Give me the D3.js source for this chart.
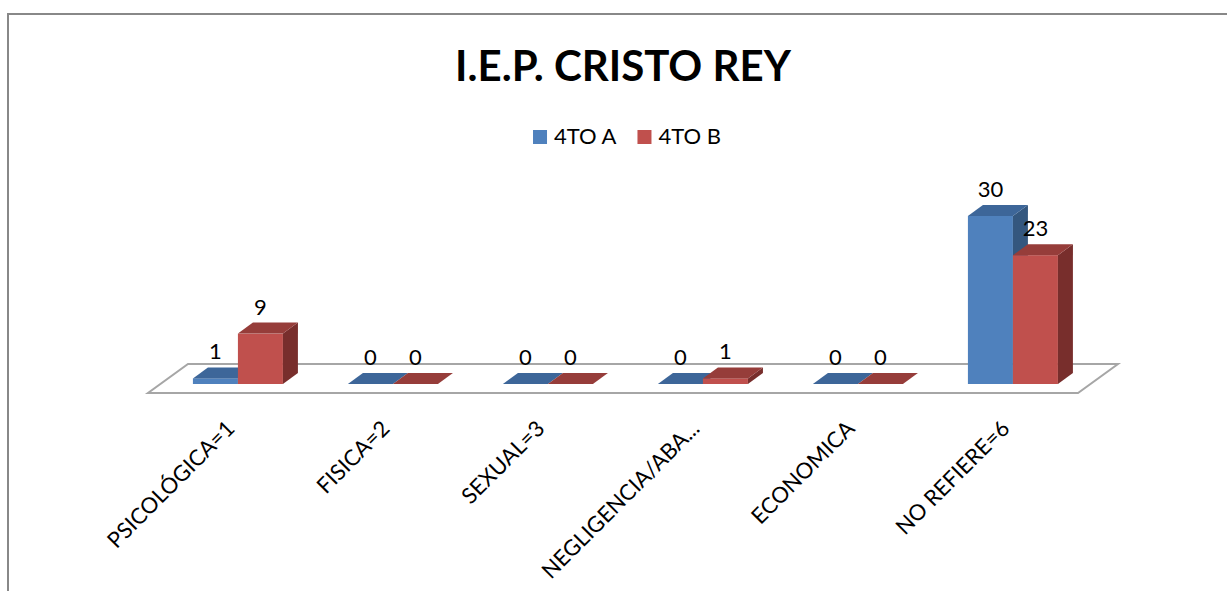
<!DOCTYPE html>
<html>
<head>
<meta charset="utf-8">
<script src="https://cdn.jsdelivr.net/npm/d3@7"></script>
<style>
  body { margin: 0; background: #fff; }
  svg { display: block; font-family: Lato, "Open Sans", sans-serif; }
</style>
</head>
<body>
<div id="chart"></div>
<script>
// Chart data
const categories = ["PSICOLÓGICA=1", "FISICA=2", "SEXUAL=3", "NEGLIGENCIA/ABA...", "ECONOMICA", "NO REFIERE=6"];
const seriesNames = ["4TO A", "4TO B"];
const valuesA = [1, 0, 0, 0, 0, 30];
const valuesB = [9, 0, 0, 1, 0, 23];
const chartTitle = "I.E.P. CRISTO REY";

// Face colours per series: front, top, side
const palette = [
  { front: "#4F81BD", top: "#3D6699", side: "#34577F" },
  { front: "#C0504D", top: "#963D3A", side: "#782E2C" },
];

const W = 1227, H = 591;

/**
 * Render a 3D-looking clustered column chart
 */
function renderChart(container) {
  const svg = d3.select(container).append("svg").attr("width", W).attr("height", H);

  // outer chart frame (runs off the right and bottom edge)
  svg.append("rect")
    .attr("x", 8).attr("y", 14)
    .attr("width", W + 20).attr("height", H + 20)
    .attr("fill", "none").attr("stroke", "#888").attr("stroke-width", 2);

  // Title
  svg.append("text")
    .attr("x", 623).attr("y", 81)
    .attr("text-anchor", "middle")
    .attr("font-size", 42).attr("font-weight", "bold")
    .attr("fill", "#000")
    .text(chartTitle);

  drawLegend(svg);

  // Floor geometry
  const floor = { left: 148, right: 1078, frontY: 393, dx: 40, dy: -29 };
  const bar = { inset: 9, dx: 15, dy: -11, width: 45 };
  const insetX = bar.inset * floor.dx / -floor.dy;
  const baseY = floor.frontY - bar.inset;

  const x = d3.scaleBand()
    .domain(categories)
    .range([floor.left + insetX, floor.right + insetX]);
  const xs = d3.scaleBand()
    .domain(seriesNames)
    .range([(x.bandwidth() - 2 * bar.width) / 2, (x.bandwidth() + 2 * bar.width) / 2]);
  const y = d3.scaleLinear().domain([0, 30]).range([baseY, 216]);

  // Floor plane
  const fp = [
    [floor.left, floor.frontY],
    [floor.right, floor.frontY],
    [floor.right + floor.dx, floor.frontY + floor.dy],
    [floor.left + floor.dx, floor.frontY + floor.dy],
  ];
  svg.append("polygon")
    .attr("points", fp.map((p) => p.join(",")).join(" "))
    .attr("fill", "#fff").attr("stroke", "#a6a6a6").attr("stroke-width", 2);

  const series = [valuesA, valuesB];
  const bars = svg.append("g");
  const labels = [];

  categories.forEach((cat, i) => {
    series.forEach((vals, s) => {
      const v = vals[i];
      const x0 = x(cat) + xs(seriesNames[s]);
      const x1 = x0 + xs.bandwidth();
      const yt = y(v);
      const c = palette[s];
      const g = bars.append("g");

      if (v > 0) {
        // front face
        g.append("rect")
          .attr("x", x0).attr("y", yt)
          .attr("width", x1 - x0).attr("height", baseY - yt)
          .attr("fill", c.front);
        // side face
        g.append("polygon")
          .attr("points", [
            [x1, yt], [x1 + bar.dx, yt + bar.dy], [x1 + bar.dx, baseY + bar.dy], [x1, baseY],
          ].map((p) => p.join(",")).join(" "))
          .attr("fill", c.side);
      }
      // top face
      g.append("polygon")
        .attr("points", [
          [x0, yt], [x1, yt], [x1 + bar.dx, yt + bar.dy], [x0 + bar.dx, yt + bar.dy],
        ].map((p) => p.join(",")).join(" "))
        .attr("fill", c.top);

      labels.push({ x: (x0 + x1) / 2, y: yt - 19, v });
    });
  });

  // value labels
  svg.append("g").selectAll("text")
    .data(labels)
    .join("text")
    .attr("x", (d) => d.x).attr("y", (d) => d.y)
    .attr("text-anchor", "middle")
    .attr("font-size", 22).attr("fill", "#000")
    .text((d) => d.v);

  // category labels, rotated
  svg.append("g").selectAll("text")
    .data(categories)
    .join("text")
    .attr("transform", (d) => `translate(${x(d) + x.bandwidth() / 2 - 2},430) rotate(-45)`)
    .attr("text-anchor", "end")
    .attr("font-size", 22).attr("fill", "#000")
    .text((d) => d);
}

/**
 * Legend centred under the title
 */
function drawLegend(svg) {
  const lg = svg.append("g").attr("font-size", 22);
  let cx = 0;
  seriesNames.forEach((name, s) => {
    const it = lg.append("g").attr("transform", `translate(${cx},0)`);
    it.append("rect").attr("x", 0).attr("y", -14).attr("width", 14).attr("height", 14)
      .attr("fill", palette[s].front);
    const t = it.append("text").attr("x", 21).attr("y", 0).attr("fill", "#000").text(name);
    cx += 21 + t.node().getComputedTextLength() + 21;
  });
  const total = cx - 21;
  lg.attr("transform", `translate(${627 - total / 2},144)`);
}

renderChart(document.getElementById("chart"));
</script>
</body>
</html>
